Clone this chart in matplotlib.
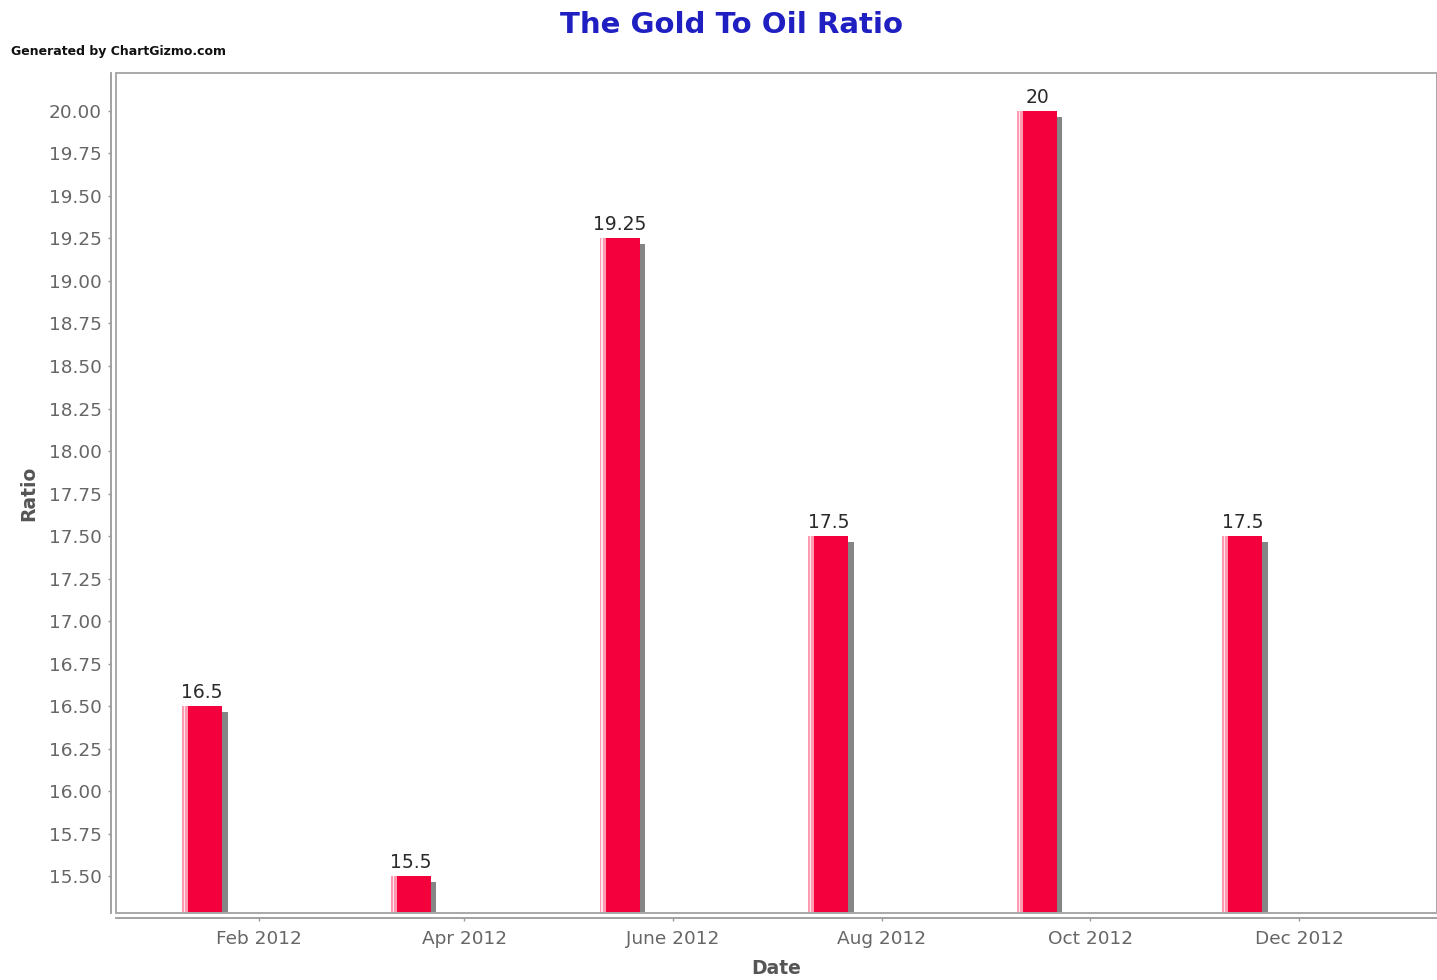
import matplotlib
matplotlib.use("Agg")
import matplotlib.pyplot as plt
import matplotlib.dates as mdates
import matplotlib.patheffects as pe
from matplotlib.patches import Rectangle
import numpy as np

# Observations (one per two months, plotted mid-month)
dates = ["2012-01-15", "2012-03-16", "2012-05-16", "2012-07-16", "2012-09-15", "2012-11-14"]
ratios = [16.5, 15.5, 19.25, 17.5, 20.0, 17.5]
value_labels = ["16.5", "15.5", "19.25", "17.5", "20", "17.5"]

# Axis ticks
y_ticks = [15.50, 15.75, 16.00, 16.25, 16.50, 16.75, 17.00, 17.25, 17.50,
           17.75, 18.00, 18.25, 18.50, 18.75, 19.00, 19.25, 19.50, 19.75, 20.00]
x_tick_dates = ["2012-02-01", "2012-04-01", "2012-06-01", "2012-08-01", "2012-10-01", "2012-12-01"]
x_tick_labels = ["Feb 2012", "Apr 2012", "June 2012", "Aug 2012", "Oct 2012", "Dec 2012"]

W, H = 1437, 980
fig = plt.figure(figsize=(W / 100, H / 100), dpi=100)
fig.patch.set_facecolor("white")

left, right, top, bottom = 116, 1437, 73, 913
ax = fig.add_axes([left / W, 1 - bottom / H, (right - left) / W, (bottom - top) / H])
ax.set_facecolor("white")

x = mdates.date2num(np.array(dates, dtype="datetime64[D]")) + 0.4
xt = mdates.date2num(np.array(x_tick_dates, dtype="datetime64[D]"))
vals = np.array(ratios)

ymin, ymax = 15.2824, 20.2235
ax.set_ylim(ymin, ymax)
ax.set_xlim(mdates.date2num(np.datetime64("2011-12-21")) + 0.2,
            mdates.date2num(np.datetime64("2013-01-10")) + 0.3)

base = 15.0
bar_w = 11.7
red = "#f4003c"

# main bars with a grey drop shadow
bars = ax.bar(x, vals - base, bottom=base, width=bar_w, color=red,
              edgecolor="none", zorder=3)
for b in bars:
    b.set_path_effects([pe.SimplePatchShadow(offset=(3.8, -4.0), shadow_rgbFace="#858585", alpha=1.0),
                        pe.Normal()])

# light highlight along the left edge of each bar
strip_w = bar_w * 0.15
ax.bar(x - bar_w / 2 + strip_w / 2, vals - base, bottom=base, width=strip_w,
       color="#ff9ab0", edgecolor="none", zorder=4)
ax.bar(x - bar_w / 2 + bar_w * 0.06, vals - base, bottom=base, width=bar_w * 0.035,
       color="#ffe6ec", edgecolor="none", zorder=5)

for xi, v, lab in zip(x, vals, value_labels):
    ax.annotate(lab, (xi, v), xytext=(0, 3), textcoords="offset points",
                ha="center", va="bottom", fontsize=13.5, color="#2a2a2a", zorder=6)

# axes styling
for s in ("top", "right"):
    ax.spines[s].set_visible(False)
for s in ("left", "bottom"):
    ax.spines[s].set_position(("outward", 3.6))
    ax.spines[s].set_color("#9a9a9a")
    ax.spines[s].set_linewidth(1.3)

ax.add_patch(Rectangle((0, 0), 1, 1, transform=ax.transAxes, fill=False,
                       edgecolor="#a8a8a8", linewidth=1.4, clip_on=False, zorder=7))

ax.set_yticks(y_ticks)
ax.set_yticklabels([f"{t:.2f}" for t in y_ticks])
ax.set_xticks(xt)
ax.set_xticklabels(x_tick_labels)
ax.tick_params(axis="both", colors="#9a9a9a", length=2.5, width=1, labelsize=13.3,
               labelcolor="#666666", direction="out")
ax.tick_params(axis="y", pad=4)
ax.tick_params(axis="x", pad=6)

ax.set_ylabel("Ratio", fontsize=13.5, fontweight="bold", color="#555555", labelpad=8)
ax.set_xlabel("Date", fontsize=13.5, fontweight="bold", color="#555555", labelpad=8)

fig.text(731 / W, 1 - 25 / H, "The Gold To Oil Ratio", ha="center", va="center",
         fontsize=21, fontweight="bold", color="#1f1fc2")
fig.text(11 / W, 1 - 52 / H, "Generated by ChartGizmo.com", ha="left", va="center",
         fontsize=9, fontweight="bold", color="#111111")

fig.savefig("out.png", dpi=100, facecolor="white")
